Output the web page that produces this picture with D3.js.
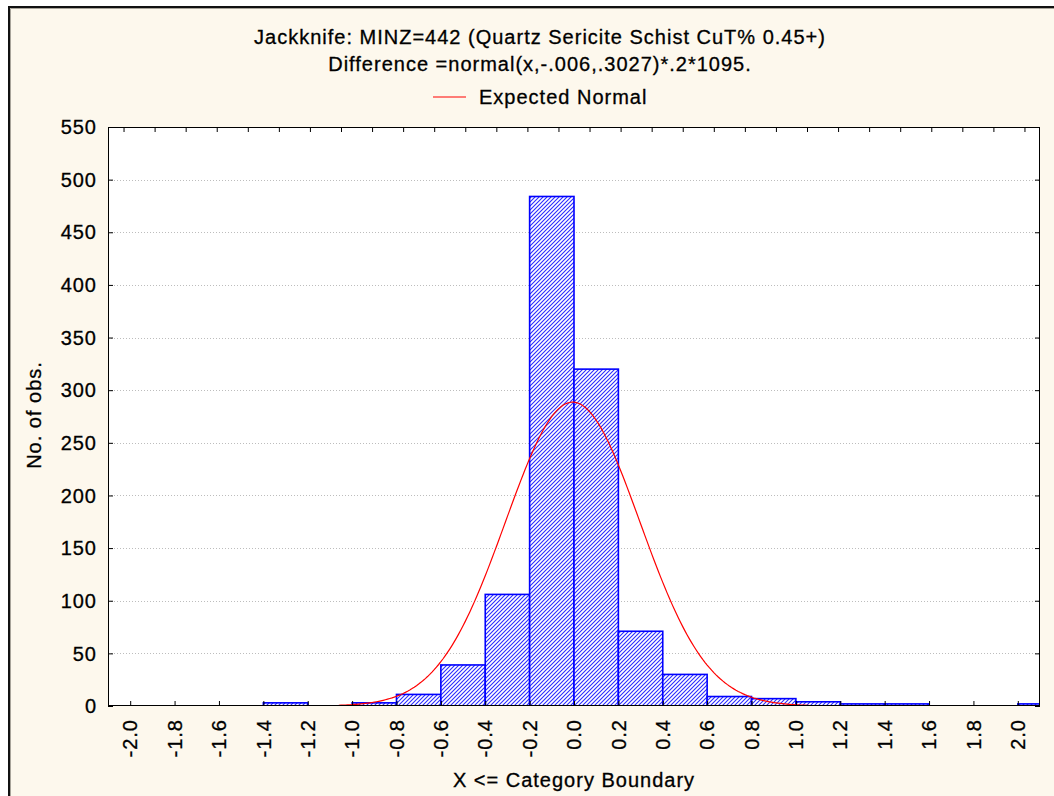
<!DOCTYPE html>
<html>
<head>
<meta charset="utf-8">
<script src="https://cdn.jsdelivr.net/npm/d3@7"></script>
<style>
  html, body { margin: 0; padding: 0; background: #ffffff; }
  svg { display: block; font-family: "Liberation Sans", Arial, sans-serif; }
  svg text { letter-spacing: 1px; stroke: #000; stroke-width: 0.3px; }
</style>
</head>
<body>
<svg id="chart" width="1054" height="796"></svg>
<script>
// Histogram bins: upper category boundary of each 0.2-wide class, and its count
const binUpper = [-2.0, -1.8, -1.6, -1.4, -1.2, -1.0, -0.8, -0.6, -0.4, -0.2, 0.0,
                  0.2, 0.4, 0.6, 0.8, 1.0, 1.2, 1.4, 1.6, 1.8, 2.0, 2.2];
const binCounts = [0, 0, 0, 0, 3, 0, 3, 11, 39, 106, 484,
                   320, 71, 30, 9, 7, 4, 2, 2, 0, 0, 2];
const binWidth = 0.2;

// Fitted normal: normal(x, mu, sigma) * binWidth * N
const fitMu = -0.006;
const fitSigma = 0.3027;
const fitN = 1095;
const fitRange = [-1.06, 1.06];

// Axis ticks
const xTickValues = [-2.0, -1.8, -1.6, -1.4, -1.2, -1.0, -0.8, -0.6, -0.4, -0.2, 0.0,
                     0.2, 0.4, 0.6, 0.8, 1.0, 1.2, 1.4, 1.6, 1.8, 2.0];
const yTickValues = [0, 50, 100, 150, 200, 250, 300, 350, 400, 450, 500, 550];
const topTickValues = d3.range(30).map(i => -2.03 + 0.14 * i);

const titleLines = [
  "Jackknife: MINZ=442 (Quartz Sericite Schist CuT% 0.45+)",
  "Difference =normal(x,-.006,.3027)*.2*1095."
];
const legendLabel = "Expected Normal";
const xTitle = "X <= Category Boundary";
const yTitle = "No. of obs.";

const svg = d3.select("#chart");
const W = 1054, H = 796;
const plot = { left: 108, right: 1040, top: 127, bottom: 706 };

// Window background and frame
svg.append("rect").attr("x", 0).attr("y", 0).attr("width", W).attr("height", H).attr("fill", "#ffffff");
svg.append("rect").attr("x", 10).attr("y", 8).attr("width", W - 10).attr("height", H - 8).attr("fill", "#fdf8ed");
svg.append("path").attr("d", `M9,${H} V7 H${W}`).attr("fill", "none").attr("stroke", "#111").attr("stroke-width", 2);
svg.append("path").attr("d", `M10.5,${H} V8.5 H${W}`).attr("fill", "none").attr("stroke", "#a8a49a").attr("stroke-width", 1);

const x = d3.scaleLinear().domain([-2.1, 2.1]).range([plot.left, plot.right]);
const y = d3.scaleLinear().domain([0, 550]).range([plot.bottom, plot.top]);

// Hatch fill for the bars
const defs = svg.append("defs");
const pat = defs.append("pattern").attr("id", "hatch")
  .attr("patternUnits", "userSpaceOnUse").attr("width", 4).attr("height", 4);
pat.append("rect").attr("width", 4).attr("height", 4).attr("fill", "#ffffff");
pat.append("path").attr("d", "M-1,1 l2,-2 M0,4 l4,-4 M3,5 l2,-2")
  .attr("stroke", "#2a2aff").attr("stroke-width", 1.1);
defs.append("clipPath").attr("id", "plotClip").append("rect")
  .attr("x", plot.left).attr("y", plot.top)
  .attr("width", plot.right - plot.left).attr("height", plot.bottom - plot.top);

// Plot area
svg.append("rect").attr("x", plot.left).attr("y", plot.top)
  .attr("width", plot.right - plot.left).attr("height", plot.bottom - plot.top)
  .attr("fill", "#ffffff");

// Dotted horizontal grid
svg.append("g").selectAll("line").data(yTickValues.filter(v => v > 0 && v < 550)).join("line")
  .attr("x1", plot.left).attr("x2", plot.right)
  .attr("y1", d => Math.round(y(d)) + 0.5).attr("y2", d => Math.round(y(d)) + 0.5)
  .attr("stroke", "#bdbdbd").attr("stroke-width", 1).attr("stroke-dasharray", "1,2");

// Bars
const bins = binUpper.map((u, i) => ({ x0: u - binWidth, x1: u, n: binCounts[i] })).filter(d => d.n > 0);
svg.append("g").attr("clip-path", "url(#plotClip)").selectAll("rect").data(bins).join("rect")
  .attr("x", d => x(d.x0)).attr("width", d => x(d.x1) - x(d.x0))
  .attr("y", d => y(d.n)).attr("height", d => y(0) - y(d.n))
  .attr("fill", "url(#hatch)").attr("stroke", "#0000ff").attr("stroke-width", 1.6);

// Expected normal curve
const pdf = v => Math.exp(-0.5 * Math.pow((v - fitMu) / fitSigma, 2)) / (fitSigma * Math.sqrt(2 * Math.PI));
const curvePts = d3.range(fitRange[0], fitRange[1] + 1e-9, 0.01).map(v => [v, pdf(v) * binWidth * fitN]);
const line = d3.line().x(d => x(d[0])).y(d => y(d[1])).curve(d3.curveLinear);
svg.append("path").datum(curvePts).attr("d", line)
  .attr("fill", "none").attr("stroke", "#ff0000").attr("stroke-width", 1.2);

// Plot frame
svg.append("rect").attr("x", plot.left + 0.5).attr("y", plot.top + 0.5)
  .attr("width", plot.right - plot.left - 1).attr("height", plot.bottom - plot.top - 1)
  .attr("fill", "none").attr("stroke", "#000").attr("stroke-width", 1);

// Bottom axis (inward ticks) with rotated labels
const bottomAxis = d3.axisTop(x).tickValues(xTickValues).tickSize(5).tickFormat("");
const gb = svg.append("g").attr("transform", `translate(0,${plot.bottom})`).call(bottomAxis);
gb.select(".domain").remove();
gb.selectAll("line").attr("stroke", "#000");
svg.append("g").selectAll("text").data(xTickValues).join("text")
  .attr("transform", d => `translate(${x(d)},${plot.bottom + 13}) rotate(-90)`)
  .attr("text-anchor", "end").attr("dy", "0.36em")
  .attr("font-size", 20).attr("fill", "#000")
  .text(d => d3.format(".1f")(d).replace("−", "-"));

// Top axis ticks
const topAxis = d3.axisBottom(x).tickValues(topTickValues).tickSize(5).tickFormat("");
const gt = svg.append("g").attr("transform", `translate(0,${plot.top})`).call(topAxis);
gt.select(".domain").remove();
gt.selectAll("line").attr("stroke", "#000");

// Left axis with labels, right axis ticks
const leftAxis = d3.axisRight(y).tickValues(yTickValues).tickSize(5).tickFormat("");
const gl = svg.append("g").attr("transform", `translate(${plot.left},0)`).call(leftAxis);
gl.select(".domain").remove();
gl.selectAll("line").attr("stroke", "#000");
const rightAxis = d3.axisLeft(y).tickValues(yTickValues).tickSize(5).tickFormat("");
const gr = svg.append("g").attr("transform", `translate(${plot.right},0)`).call(rightAxis);
gr.select(".domain").remove();
gr.selectAll("line").attr("stroke", "#000");
svg.append("g").selectAll("text").data(yTickValues).join("text")
  .attr("x", 97).attr("y", d => y(d)).attr("dy", "0.36em")
  .attr("text-anchor", "end").attr("font-size", 20).attr("fill", "#000")
  .text(d => d);

// Titles
svg.append("g").selectAll("text").data(titleLines).join("text")
  .attr("x", 540).attr("y", (d, i) => 44 + i * 27)
  .attr("text-anchor", "middle").attr("font-size", 20).attr("fill", "#000")
  .text(d => d);

// Legend
svg.append("line").attr("x1", 433).attr("x2", 466).attr("y1", 97).attr("y2", 97)
  .attr("stroke", "#ff0000").attr("stroke-width", 1.2);
svg.append("text").attr("x", 479).attr("y", 104).attr("font-size", 20).attr("fill", "#000")
  .text(legendLabel);

// Axis titles
svg.append("text").attr("x", 574).attr("y", 787).attr("text-anchor", "middle")
  .attr("font-size", 20).attr("fill", "#000").text(xTitle);
svg.append("text").attr("transform", "translate(41,415) rotate(-90)")
  .attr("text-anchor", "middle").attr("font-size", 20).attr("fill", "#000").text(yTitle);
</script>
</body>
</html>
